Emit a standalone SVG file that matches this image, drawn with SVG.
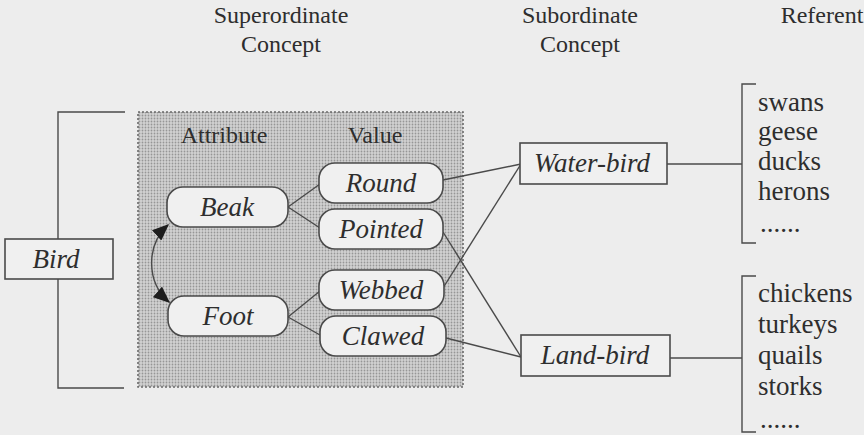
<svg xmlns="http://www.w3.org/2000/svg" width="864" height="435" viewBox="0 0 864 435">
  <style>
    .hdr { font-family: "Liberation Serif", "Times New Roman", serif; font-size: 24px; fill: #2e2e2e; text-anchor: middle; }
    .lbl { font-family: "Liberation Serif", "Times New Roman", serif; font-size: 27px; font-style: italic; fill: #2e2e2e; text-anchor: middle; }
    .ref { font-family: "Liberation Serif", "Times New Roman", serif; font-size: 27px; fill: #2e2e2e; }
    .pill { fill: #f0f0f0; stroke: #4a4a4a; stroke-width: 1.6; }
    .box { fill: #f0f0f0; stroke: #4a4a4a; stroke-width: 1.6; }
    .ln { fill: none; stroke: #4a4a4a; stroke-width: 1.4; }
  </style>
  <defs>
    <pattern id="halftone" width="3" height="3" patternUnits="userSpaceOnUse">
      <rect width="3" height="3" fill="#d2d2d2"/>
      <circle cx="1.5" cy="1.5" r="0.9" fill="#969696"/>
    </pattern>
    <marker id="tri" viewBox="0 0 12 10" refX="11" refY="5" markerWidth="17" markerHeight="14" markerUnits="userSpaceOnUse" orient="auto-start-reverse">
      <path d="M0,0 L12,5 L0,10 Z" fill="#1e1e1e"/>
    </marker>
  </defs>

  <!-- page background -->
  <rect width="864" height="435" fill="#ededed"/>

  <!-- column headings -->
  <g id="headings">
    <text class="hdr" x="281" y="23">Superordinate</text>
    <text class="hdr" x="281" y="52">Concept</text>
    <text class="hdr" x="580" y="23">Subordinate</text>
    <text class="hdr" x="580" y="52">Concept</text>
    <text class="hdr" x="822" y="23">Referent</text>
  </g>

  <!-- shaded attribute/value panel -->
  <g id="panel">
    <rect x="138" y="112" width="325" height="275" fill="url(#halftone)" stroke="#6a6a6a" stroke-width="1.6" stroke-dasharray="2 2"/>
    <text class="hdr" x="224" y="143">Attribute</text>
    <text class="hdr" x="375" y="143">Value</text>
  </g>

  <!-- connectors -->
  <g id="connectors">
    <!-- bracket grouping the Bird concept -->
    <path class="ln" d="M125,112 H58 V388 H124"/>
    <!-- attribute to values -->
    <path class="ln" d="M288,207 L320,184 M288,207 L320,228"/>
    <path class="ln" d="M288,317 L320,291 M288,317 L320,335"/>
    <!-- values to subordinate concepts -->
    <path class="ln" d="M443,180 L521,164"/>
    <path class="ln" d="M443,288 L521,164"/>
    <path class="ln" d="M443,232 L521,357"/>
    <path class="ln" d="M446,338 L521,357"/>
    <!-- subordinate concepts to referent brackets -->
    <path class="ln" d="M667,164 H742"/>
    <path class="ln" d="M670,358 H742"/>
    <path class="ln" d="M756,84 H742 V243 H756"/>
    <path class="ln" d="M756,276 H742 V432 H756"/>
    <!-- relation between attributes -->
    <path class="ln" d="M168,225 C146,245 146,282 169,302" stroke="#2a2a2a" marker-start="url(#tri)" marker-end="url(#tri)"/>
  </g>

  <g id="bird">
    <rect class="box" x="5" y="239" width="108" height="40"/>
    <text class="lbl" x="56" y="268">Bird</text>
  </g>

  <g id="beak">
    <rect class="pill" x="167" y="187" width="121" height="40" rx="16"/>
    <text class="lbl" x="227" y="216">Beak</text>
  </g>
  <g id="foot">
    <rect class="pill" x="168" y="296" width="120" height="40" rx="16"/>
    <text class="lbl" x="228" y="325">Foot</text>
  </g>

  <g id="round">
    <rect class="pill" x="319" y="163" width="124" height="40" rx="16"/>
    <text class="lbl" x="381" y="192">Round</text>
  </g>
  <g id="pointed">
    <rect class="pill" x="319" y="209" width="124" height="40" rx="16"/>
    <text class="lbl" x="381" y="238">Pointed</text>
  </g>
  <g id="webbed">
    <rect class="pill" x="319" y="270" width="125" height="40" rx="16"/>
    <text class="lbl" x="381" y="299">Webbed</text>
  </g>
  <g id="clawed">
    <rect class="pill" x="320" y="316" width="126" height="40" rx="16"/>
    <text class="lbl" x="383" y="345">Clawed</text>
  </g>

  <g id="water-bird">
    <rect class="box" x="520" y="143" width="147" height="41"/>
    <text class="lbl" x="592" y="172">Water-bird</text>
  </g>
  <g id="land-bird">
    <rect class="box" x="521" y="335" width="149" height="41"/>
    <text class="lbl" x="595" y="364">Land-bird</text>
  </g>

  <g id="referents-water">
    <text class="ref" x="758" y="111">swans</text>
    <text class="ref" x="758" y="140">geese</text>
    <text class="ref" x="758" y="170">ducks</text>
    <text class="ref" x="758" y="200">herons</text>
    <text class="ref" x="760" y="232">......</text>
  </g>
  <g id="referents-land">
    <text class="ref" x="758" y="302">chickens</text>
    <text class="ref" x="758" y="333">turkeys</text>
    <text class="ref" x="758" y="364">quails</text>
    <text class="ref" x="758" y="395">storks</text>
    <text class="ref" x="760" y="428">......</text>
  </g>
</svg>
